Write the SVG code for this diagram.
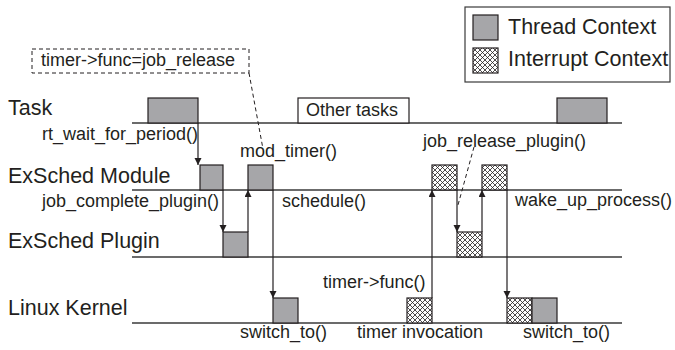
<svg xmlns="http://www.w3.org/2000/svg" width="675" height="350" viewBox="0 0 675 350">
<style>
text{font-family:"Liberation Sans",Arial,sans-serif;fill:#231f20}
.big{font-size:21.5px}
.sm{font-size:18px}
.th{fill:#a6a6a9;stroke:#231f20;stroke-width:1.2}
.ir{fill:url(#hatch);stroke:#231f20;stroke-width:1.2}
.tl{stroke:#3a3a3a;stroke-width:1.4;fill:none}
.ar{stroke:#231f20;stroke-width:1.2;fill:none;marker-end:url(#ah)}
.dash{stroke:#231f20;stroke-width:1;fill:none;stroke-dasharray:4,3}
</style>
<defs>
<pattern id="hatch" width="5" height="5" patternUnits="userSpaceOnUse">
<rect width="5" height="5" fill="#fff"/>
<path d="M0,0L5,5M5,0L0,5M-1,4L1,6M4,-1L6,1M-1,1L1,-1M4,6L6,4" stroke="#231f20" stroke-width="0.8"/>
</pattern>
<marker id="ah" markerWidth="8" markerHeight="8" refX="7" refY="3.5" orient="auto" markerUnits="userSpaceOnUse">
<path d="M0,0L7,3.5L0,7z" fill="#231f20"/>
</marker>
</defs>

<g id="legend">
<rect x="465" y="7" width="205" height="75" fill="#fff" stroke="#3a3a3a" stroke-width="1.2"/>
<rect class="th" x="473" y="15" width="25" height="25"/>
<text class="big" x="508" y="34">Thread Context</text>
<rect class="ir" x="473" y="48" width="25" height="25"/>
<text class="big" x="508" y="66">Interrupt Context</text>
</g>

<g id="note">
<rect x="32" y="49" width="217" height="24" fill="none" class="dash"/>
<text class="sm" x="41" y="66">timer-&gt;func=job_release</text>
</g>

<g id="timelines">
<line class="tl" x1="132" y1="123" x2="622" y2="123"/>
<line class="tl" x1="132" y1="190" x2="622" y2="190"/>
<line class="tl" x1="132" y1="257" x2="622" y2="257"/>
<line class="tl" x1="132" y1="323" x2="622" y2="323"/>
</g>

<g id="task">
<text class="big" x="8" y="115">Task</text>
<rect class="th" x="148" y="98" width="50" height="25"/>
<rect x="298" y="98" width="111" height="25" fill="#fff" stroke="#231f20" stroke-width="1.2"/>
<text class="sm" x="306" y="116">Other tasks</text>
<rect class="th" x="557" y="98" width="50" height="25"/>
</g>

<g id="module">
<text class="big" x="8" y="182.5">ExSched Module</text>
<rect class="th" x="200" y="165" width="23" height="25"/>
<rect class="th" x="248" y="165" width="25" height="25"/>
<rect class="ir" x="432" y="165" width="25" height="25"/>
<rect class="ir" x="482" y="165" width="25" height="25"/>
</g>

<g id="plugin">
<text class="big" x="8" y="248">ExSched Plugin</text>
<rect class="th" x="223" y="232" width="25" height="25"/>
<rect class="ir" x="457" y="232" width="25" height="25"/>
</g>

<g id="kernel">
<text class="big" x="8" y="315">Linux Kernel</text>
<rect class="th" x="273" y="298" width="25" height="25"/>
<rect class="ir" x="407" y="298" width="25" height="25"/>
<rect class="ir" x="507" y="298" width="25" height="25"/>
<rect class="th" x="532" y="298" width="25" height="25"/>
</g>

<g id="connectors">
<line class="ar" x1="198" y1="123" x2="198" y2="165"/>
<line class="ar" x1="223" y1="190" x2="223" y2="232"/>
<line class="ar" x1="248" y1="232" x2="248" y2="190"/>
<line class="ar" x1="273" y1="190" x2="273" y2="298"/>
<line class="ar" x1="432" y1="298" x2="432" y2="190"/>
<line class="ar" x1="457" y1="190" x2="457" y2="232"/>
<line class="ar" x1="482" y1="232" x2="482" y2="190"/>
<line class="ar" x1="507" y1="190" x2="507" y2="298"/>
<line class="dash" x1="249" y1="73" x2="263" y2="149"/>
<line class="dash" x1="474" y1="147" x2="458" y2="205"/>
</g>

<g id="labels">
<text class="sm" x="42" y="140">rt_wait_for_period()</text>
<text class="sm" x="240" y="157">mod_timer()</text>
<text class="sm" x="42" y="207">job_complete_plugin()</text>
<text class="sm" x="282" y="207">schedule()</text>
<text class="sm" x="423" y="147">job_release_plugin()</text>
<text class="sm" x="515" y="206">wake_up_process()</text>
<text class="sm" x="323" y="288">timer-&gt;func()</text>
<text class="sm" x="240" y="338">switch_to()</text>
<text class="sm" x="357" y="338">timer invocation</text>
<text class="sm" x="523" y="338">switch_to()</text>
</g>
</svg>
